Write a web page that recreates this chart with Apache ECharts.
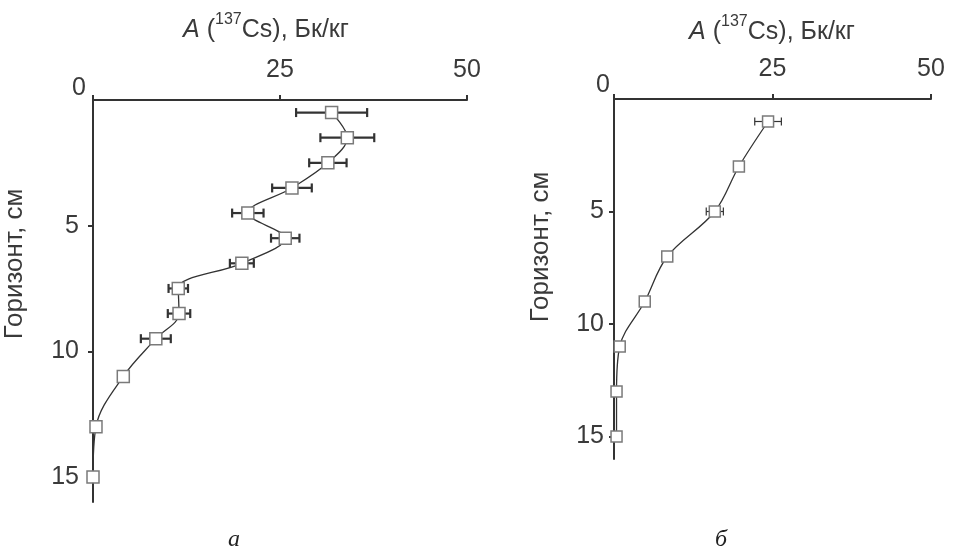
<!DOCTYPE html>
<html><head><meta charset="utf-8">
<script src="https://cdn.jsdelivr.net/npm/echarts@6/dist/echarts.min.js"></script>
<style>html,body{margin:0;padding:0;background:#fff}#c{width:953px;height:552px}</style>
</head><body><div id="c"></div>
<script>
// Panel а
const depthA = [0.5, 1.5, 2.5, 3.5, 4.5, 5.5, 6.5, 7.5, 8.5, 9.5, 11, 13, 15];
const activityA = [31.9, 34.0, 31.4, 26.6, 20.7, 25.7, 19.9, 11.4, 11.5, 8.4, 4.05, 0.4, 0];
const errorA = [4.75, 3.6, 2.5, 2.65, 2.1, 1.9, 1.6, 1.3, 1.5, 2.0, 0, 0, 0];
// Panel б
const depthB = [1, 3, 5, 7, 9, 11, 13, 15];
const activityB = [24.3, 19.7, 15.9, 8.4, 4.85, 0.9, 0.4, 0.4];
const errorB = [2.1, 0, 1.35, 0, 0, 0, 0, 0];
const xTicks = [0, 25, 50];
const yTicks = [0, 5, 10, 15];
const xTitle = 'A';
const xTitleSup = '137';
const xTitleRest = 'Cs), Бк/кг';
const yTitle = 'Горизонт, см';
const panelLabels = ['а', 'б'];

const FONT = '"Liberation Sans", Arial, sans-serif';
const AX = '#333';
const TXT = '#3a3a3a';

function xAxisCfg(gi, lw) {
  return {
    gridIndex: gi, type: 'value', position: 'top', min: 0, max: 50, interval: 25,
    axisLine: {show: true, onZero: false, lineStyle: {color: AX, width: lw}},
    axisTick: {show: true, inside: false, length: 5, lineStyle: {color: AX, width: lw}},
    splitLine: {show: false},
    axisLabel: {margin: 17, color: TXT, fontSize: 25, fontFamily: FONT,
      customValues: xTicks.filter(v => v !== 0), formatter: v => String(v)}
  };
}
function yAxisCfg(gi, lw, zeroShift, zeroMargin, otherMargin) {
  return {
    gridIndex: gi, type: 'value', inverse: true, min: 0, max: 16,
    axisLine: {show: true, onZero: false, lineStyle: {color: AX, width: lw}},
    axisTick: {show: true, length: 5, customValues: yTicks.filter(v => v !== 0), lineStyle: {color: AX, width: lw}},
    splitLine: {show: false},
    axisLabel: {margin: zeroMargin, color: TXT, fontSize: 25, fontFamily: FONT,
      customValues: yTicks,
      formatter: v => v === 0 ? '{z|0}' : '{n|' + v + '}',
      rich: {
        z: {fontSize: 25, fontFamily: FONT, color: TXT, padding: [0, 0, zeroShift * 2, 0]},
        n: {fontSize: 25, fontFamily: FONT, color: TXT, padding: [0, otherMargin - zeroMargin, 0, 0]}
      }}
  };
}
function pts(xs, ys) { return xs.map((x, i) => [x, ys[i]]); }
function errData(xs, ys, es) { return xs.map((x, i) => [x - es[i], x + es[i], ys[i], es[i]]).filter(d => d[3] > 0); }
function errSeries(gi, data, lw, cap) {
  return {
    type: 'custom', xAxisIndex: gi, yAxisIndex: gi, z: 1, silent: true,
    data: data, encode: {x: [0, 1], y: 2},
    renderItem: function (params, api) {
      const a = api.coord([api.value(0), api.value(2)]);
      const b = api.coord([api.value(1), api.value(2)]);
      const st = {stroke: AX, lineWidth: lw, fill: null};
      return {type: 'group', children: [
        {type: 'line', shape: {x1: a[0], y1: a[1], x2: b[0], y2: b[1]}, style: st},
        {type: 'line', shape: {x1: a[0], y1: a[1] - cap, x2: a[0], y2: a[1] + cap}, style: st},
        {type: 'line', shape: {x1: b[0], y1: b[1] - cap, x2: b[0], y2: b[1] + cap}, style: st}
      ]};
    }
  };
}
function lineSeries(gi, data, size) {
  return {
    type: 'line', xAxisIndex: gi, yAxisIndex: gi, z: 3, data: data, smooth: 0.35,
    symbol: 'rect', symbolSize: size, showAllSymbol: true,
    lineStyle: {color: '#333', width: 1.3},
    itemStyle: {color: '#fff', borderColor: '#7a7a7a', borderWidth: 1.5},
    emphasis: {disabled: true}, animation: false
  };
}
function titleText(cx, cy) {
  return {
    type: 'text', x: cx, y: cy,
    style: {
      text: '{i|' + xTitle + '} (' + '{s|' + xTitleSup + '}' + xTitleRest,
      font: '25px ' + FONT, fill: TXT, align: 'center', verticalAlign: 'middle',
      rich: {
        i: {fontStyle: 'italic', fontSize: 25, fontFamily: FONT, fill: TXT},
        s: {fontSize: 16, fontFamily: FONT, fill: TXT, verticalAlign: 'top', padding: [0, 0, 20, 0]}
      }
    }
  };
}
function yTitleText(cx, cy) {
  return {
    type: 'text', x: cx, y: cy, rotation: Math.PI / 2,
    style: {text: yTitle, font: '26px ' + FONT, fill: TXT, align: 'center', verticalAlign: 'middle'}
  };
}
function panelText(cx, cy, t) {
  return {
    type: 'text', x: cx, y: cy,
    style: {text: t, font: 'italic 24px "Liberation Serif", "DejaVu Serif", serif', fill: '#222', align: 'center', verticalAlign: 'middle'}
  };
}

const chart = echarts.init(document.getElementById('c'), null, {renderer: 'canvas'});
chart.setOption({
  animation: false,
  backgroundColor: '#fff',
  grid: [
    {left: 93, top: 100, width: 374, height: 402, containLabel: false},
    {left: 614, top: 99, width: 317, height: 360, containLabel: false}
  ],
  xAxis: [xAxisCfg(0, 2), xAxisCfg(1, 2)],
  yAxis: [yAxisCfg(0, 2, 12, 7, 14), yAxisCfg(1, 2, 14, 4, 10)],
  series: [
    errSeries(0, errData(activityA, depthA, errorA), 2.2, 4.5),
    lineSeries(0, pts(activityA, depthA), 12),
    errSeries(1, errData(activityB, depthB, errorB), 1.2, 4),
    lineSeries(1, pts(activityB, depthB), 11)
  ],
  graphic: [
    titleText(266, 30),
    titleText(772, 32),
    yTitleText(15, 264),
    yTitleText(541, 247),
    panelText(234, 540, panelLabels[0]),
    panelText(721, 540, panelLabels[1])
  ]
});
</script></body></html>
